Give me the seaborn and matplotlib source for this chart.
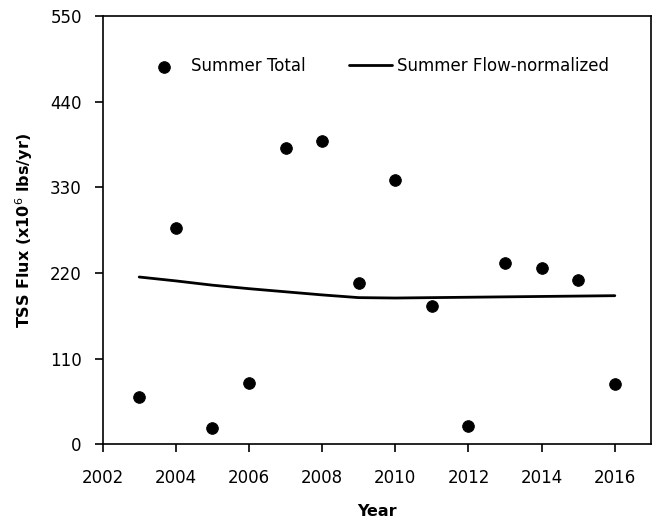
import matplotlib
matplotlib.use("Agg")
import matplotlib.pyplot as plt
import seaborn as sns
import pandas as pd

years = [2003, 2004, 2005, 2006, 2007, 2008, 2009, 2010, 2011, 2012, 2013, 2014, 2015, 2016]
summer_total = [61, 278, 21, 79, 381, 390, 207, 340, 178, 24, 233, 227, 211, 77]
summer_flow_normalized = [215, 210, 204.5, 200, 196, 192, 188.5, 188, 188.5, 189, 189.5, 190, 190.5, 191]
x_ticks = [2002, 2004, 2006, 2008, 2010, 2012, 2014, 2016]
y_ticks = [0, 110, 220, 330, 440, 550]

df = pd.DataFrame({"Year": years, "total": summer_total, "fn": summer_flow_normalized})

sns.set_style("ticks")
plt.rcParams["font.family"] = ["DejaVu Sans"]
plt.rcParams["text.color"] = "black"
plt.rcParams["axes.labelcolor"] = "black"

fig = plt.figure(figsize=(6.62, 5.24), dpi=100)
ax = fig.add_axes([0.155, 0.152, 0.829, 0.817])

sns.scatterplot(data=df, x="Year", y="total", ax=ax, color="black", s=70,
                edgecolor="black", label="Summer Total", zorder=3)
sns.lineplot(data=df, x="Year", y="fn", ax=ax, color="black", linewidth=2,
             label="Summer Flow-normalized")

ax.set_xlim(2002, 2017)
ax.set_ylim(0, 550)
ax.set_xticks(x_ticks)
ax.set_yticks(y_ticks)
ax.tick_params(axis="both", direction="out", length=6, width=1.2, labelsize=12,
               colors="black", pad=9)
ax.tick_params(axis="x", pad=12)
for sp in ax.spines.values():
    sp.set_visible(True)
    sp.set_color("black")
    sp.set_linewidth(1.2)

ax.set_xlabel("Year", fontsize=11.5, fontweight="bold", labelpad=12)
ax.set_ylabel("TSS Flux (x10$^{6}$ lbs/yr)", fontsize=11.5, fontweight="bold", labelpad=11)

ax.legend(loc="upper left", bbox_to_anchor=(0.045, 0.94), ncol=2, frameon=False,
          fontsize=12, handlelength=2.6, handletextpad=0.3, columnspacing=2.6)

fig.savefig("out.png", dpi=100)
